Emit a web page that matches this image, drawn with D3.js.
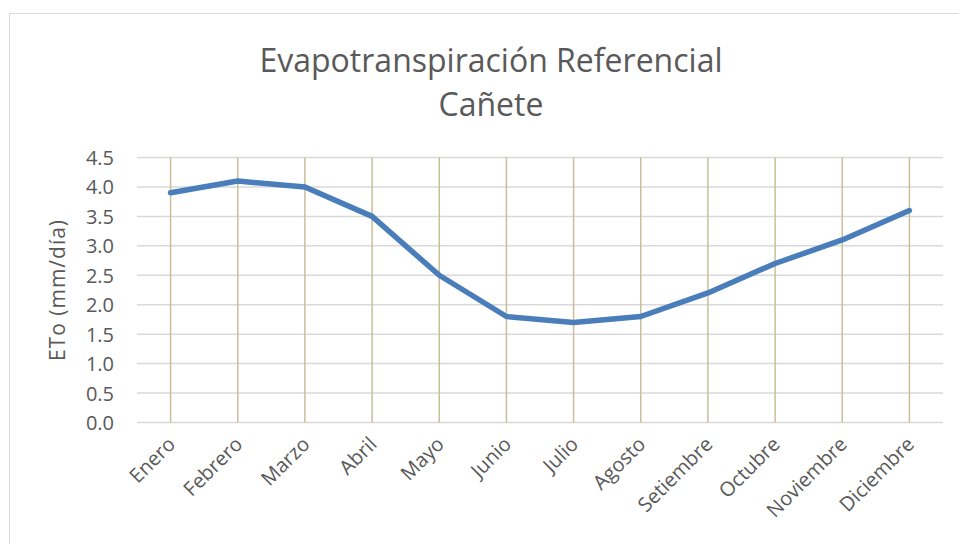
<!DOCTYPE html>
<html><head><meta charset="utf-8">
<script src="https://cdn.jsdelivr.net/npm/d3@7"></script>
<style>body{margin:0;background:#fff;}svg{display:block;font-family:"Open Sans",sans-serif;}</style>
</head><body>
<script>
const months = ["Enero","Febrero","Marzo","Abril","Mayo","Junio","Julio","Agosto","Setiembre","Octubre","Noviembre","Diciembre"];
const eto = [3.9,4.1,4.0,3.5,2.5,1.8,1.7,1.8,2.2,2.7,3.1,3.6];
const yTicks = [0,0.5,1,1.5,2,2.5,3,3.5,4,4.5];
const titleLines = ["Evapotranspiración Referencial","Cañete"];
const yTitle = "ETo (mm/día)";

const W=959,H=544;
const svg=d3.select("body").append("svg").attr("width",W).attr("height",H);
svg.append("rect").attr("x",9.5).attr("y",13.5).attr("width",W+20).attr("height",H+20)
  .attr("fill","#fff").attr("stroke","#d9d9d9").attr("stroke-width",1);

const x=d3.scaleBand().domain(months).range([137,943]);
const y=d3.scaleLinear().domain([0,4.5]).range([422.5,157.5]);

// horizontal gridlines
svg.append("g").selectAll("line").data(yTicks).join("line")
  .attr("x1",137).attr("x2",943).attr("y1",d=>y(d)).attr("y2",d=>y(d))
  .attr("stroke","#d9d9d9").attr("stroke-width",1.5);
// vertical gridlines
svg.append("g").selectAll("line").data(months).join("line")
  .attr("x1",d=>x(d)+x.bandwidth()/2).attr("x2",d=>x(d)+x.bandwidth()/2)
  .attr("y1",y(4.5)).attr("y2",y(0))
  .attr("stroke","#c9bf98").attr("stroke-width",1.5);

// y axis labels
const yAxis=d3.axisLeft(y).tickValues(yTicks).tickFormat(d3.format(".1f")).tickSize(0).tickPadding(0);
const ga=svg.append("g").attr("transform","translate(114,0)").call(yAxis);
ga.select(".domain").remove();
ga.selectAll("text").attr("font-size",20).attr("fill","#595959").attr("font-family","Open Sans").attr("dy","0.35em");

// x axis labels
const xAxis=d3.axisBottom(x).tickSize(0).tickPadding(0);
const gx=svg.append("g").attr("transform","translate(0,422.5)").call(xAxis);
gx.select(".domain").remove();
gx.selectAll("text").attr("font-size",20).attr("fill","#595959").attr("font-family","Open Sans")
  .attr("text-anchor","end").attr("dy",null).attr("y",null)
  .attr("transform","translate(6,23) rotate(-45)");

// line
svg.append("path").datum(eto).attr("fill","none").attr("stroke","#4a7ebb").attr("stroke-width",5.5)
  .attr("stroke-linejoin","round").attr("stroke-linecap","round")
  .attr("d",d3.line().x((d,i)=>x(months[i])+x.bandwidth()/2).y(d=>y(d)));

// title
svg.append("g").selectAll("text").data(titleLines).join("text")
  .attr("x",491).attr("y",(d,i)=>72+i*44).attr("text-anchor","middle")
  .attr("font-size",32).attr("fill","#595959").text(d=>d);

// y title
svg.append("text").attr("transform","translate(65,290) rotate(-90)").attr("text-anchor","middle")
  .attr("font-size",21).attr("letter-spacing",1).attr("fill","#595959").text(yTitle);
</script>
</body></html>
